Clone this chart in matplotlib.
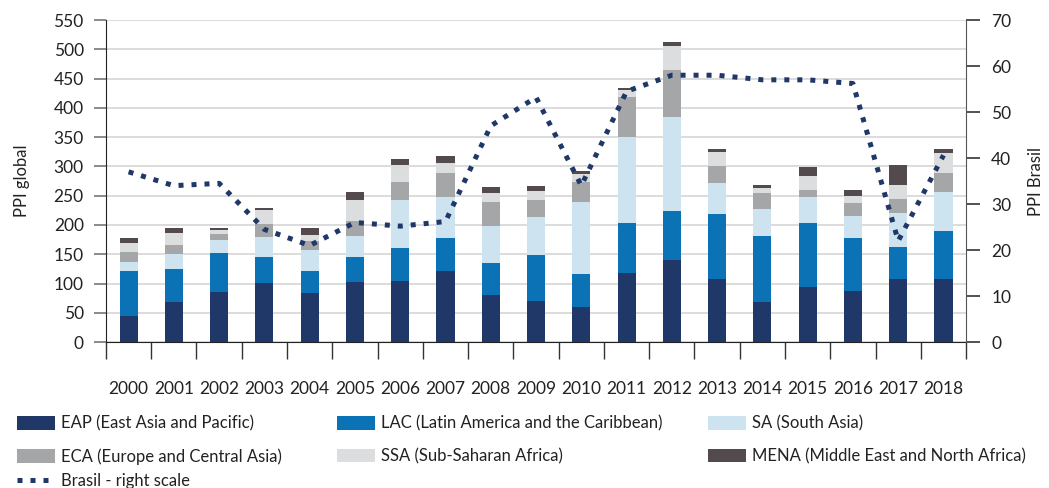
import matplotlib
matplotlib.use('Agg')
import matplotlib.pyplot as plt
from matplotlib.patches import Patch
from matplotlib.lines import Line2D
import numpy as np

plt.rcParams['font.family'] = ['Lato', 'DejaVu Sans']

years = [str(y) for y in range(2000, 2019)]

# PPI global por região
eap  = [45, 69, 86, 101, 83, 103, 104, 122, 80, 71, 60, 118, 140, 107, 69, 94, 88, 107, 107]
lac  = [77, 55, 66, 44, 39, 43, 56, 56, 55, 77, 56, 86, 83, 112, 112, 110, 90, 55, 83]
sa   = [14, 26, 22, 35, 35, 35, 83, 69, 63, 65, 123, 147, 162, 52, 47, 43, 37, 59, 66]
eca  = [17, 15, 10, 21, 16, 25, 30, 41, 41, 29, 34, 67, 79, 30, 26, 12, 22, 23, 32]
ssa  = [16, 21, 7, 24, 10, 37, 30, 17, 15, 16, 14, 12, 42, 24, 9, 25, 12, 25, 35]
mena = [8, 9, 4, 4, 11, 13, 9, 13, 11, 9, 5, 4, 7, 4, 6, 15, 11, 34, 6]

# PPI Brasil (escala da direita)
brasil = [37, 34, 34.5, 24.5, 21, 26, 25.2, 26.2, 47, 53.2, 34, 54.5, 58, 58, 57, 57, 56.2, 22, 40.6]

series = [
    ('EAP (East Asia and Pacific)', eap, '#1f3868'),
    ('LAC (Latin America and the Caribbean)', lac, '#0b72b5'),
    ('SA (South Asia)', sa, '#cde4f0'),
    ('ECA (Europe and Central Asia)', eca, '#a4a6a8'),
    ('SSA (Sub-Saharan Africa)', ssa, '#dcdddf'),
    ('MENA (Middle East and North Africa)', mena, '#524a4c'),
]
line_color = '#1f3868'
fs = 12

fig = plt.figure(figsize=(10.49, 4.88), dpi=100)
ax = fig.add_axes([0.101, 0.299, 0.820, 0.660])
x = np.arange(len(years))

bottom = np.zeros(len(years))
for name, vals, col in series:
    ax.bar(x, vals, width=0.4, bottom=bottom, color=col, zorder=3)
    bottom += np.array(vals)

ax.set_xlim(-0.5, len(years) - 0.5)
ax.set_ylim(0, 550)
ax.set_yticks(range(0, 551, 50))
ax.grid(axis='y', color='#d6d6d6', linewidth=1.2, zorder=0)
ax.set_axisbelow(True)
ax.spines['top'].set_visible(False)
ax.spines['right'].set_visible(False)
ax.spines['left'].set_color('#222222')
ax.spines['bottom'].set_color('#222222')

ax.set_xticks(x)
ax.set_xticklabels(years)
ax.set_xticks(np.arange(-0.5, len(years), 1), minor=True)
ax.tick_params(axis='x', which='major', length=0, pad=28, labelsize=fs + 0.5, colors='#222222')
ax.tick_params(axis='x', which='minor', length=12, width=1, color='#333333')
ax.tick_params(axis='y', length=9, width=1.2, color='#777777', pad=7, labelsize=fs + 0.5,
               labelcolor='#222222')
ax.set_ylabel('PPI global', fontsize=fs, color='#222222', labelpad=17)

ax2 = ax.twinx()
ax2.plot(x, brasil, color=line_color, linewidth=3.6, linestyle=(0, (1, 1.6)),
         dash_capstyle='butt', zorder=5)
ax2.set_ylim(0, 70)
ax2.set_yticks(range(0, 71, 10))
for s in ['top', 'left', 'bottom']:
    ax2.spines[s].set_visible(False)
ax2.spines['right'].set_color('#555555')
ax2.tick_params(axis='y', length=10, width=1.2, color='#333333', pad=8, labelsize=fs + 0.5,
                labelcolor='#222222')
ax2.set_ylabel('PPI Brasil', fontsize=fs, color='#222222', labelpad=12)

# legenda em três colunas + linha do Brasil
handles = [Patch(facecolor=c, label=n) for n, v, c in series]
brasil_handle = Line2D([], [], color=line_color, linewidth=3.6, linestyle=(0, (1, 1.6)),
                       dash_capstyle='butt', label='Brasil - right scale')
leg_kw = dict(loc='upper left', frameon=False, fontsize=fs, handlelength=2.3,
              handleheight=0.85, handletextpad=0.35, labelspacing=0.97,
              borderaxespad=0, borderpad=0, labelcolor='#222222')
cols = [
    ([handles[0], handles[3]], 0.016),
    ([handles[1], handles[4]], 0.321),
    ([handles[2], handles[5]], 0.675),
]
for hs, xpos in cols:
    fig.legend(handles=hs, bbox_to_anchor=(xpos, 0.148), **leg_kw)
fig.legend(handles=[brasil_handle], bbox_to_anchor=(0.016, 0.031), **leg_kw)

fig.savefig('out.png', dpi=100)
